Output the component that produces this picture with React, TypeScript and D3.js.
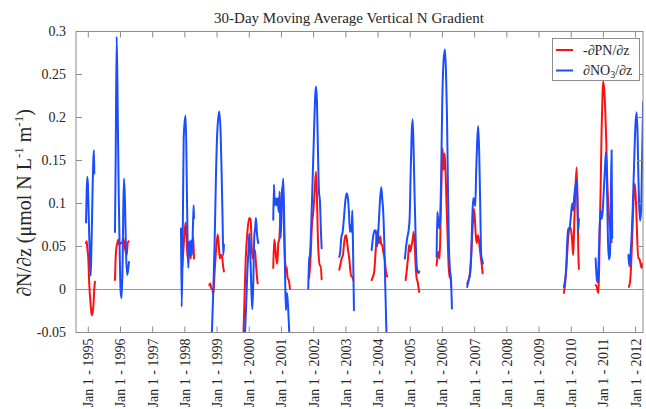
import { line, curveMonotoneX, scaleLinear } from 'd3'

type Pt = [number, number]

// decimal year, value (µmol N L-1 m-1), one array per winter season
const pnSegments: Pt[][] = [
  [[1994.929, 0.054], [1994.95, 0.056], [1994.969, 0.048], [1995.0, 0.036], [1995.031, 0.005], [1995.075, -0.018], [1995.106, -0.03], [1995.137, -0.026], [1995.168, -0.014], [1995.186, 0.001], [1995.208, 0.009]],
  [[1995.829, 0.011], [1995.86, 0.044], [1995.901, 0.054], [1995.932, 0.058], [1995.963, 0.052], [1996.006, 0.054], [1996.047, 0.054], [1996.087, 0.06], [1996.14, 0.048], [1996.193, 0.04], [1996.224, 0.054], [1996.255, 0.056]],
  [[1997.919, 0.027], [1997.95, 0.044], [1997.994, 0.067], [1998.025, 0.078], [1998.056, 0.06], [1998.087, 0.036], [1998.118, 0.052], [1998.149, 0.044], [1998.18, 0.036], [1998.211, 0.052], [1998.242, 0.056], [1998.261, 0.061], [1998.283, 0.036]],
  [[1998.758, 0.005], [1998.789, 0.007], [1998.82, 0.001], [1998.851, 0.001], [1998.882, -0.006], [1998.925, 0.021], [1998.966, 0.044], [1999.019, 0.064], [1999.05, 0.052], [1999.09, 0.036], [1999.121, 0.04], [1999.152, 0.04], [1999.183, 0.028], [1999.214, 0.021]],
  [[1999.814, -0.058], [1999.845, -0.02], [1999.888, 0.034], [1999.938, 0.065], [2000.0, 0.083], [2000.043, 0.081], [2000.075, 0.05], [2000.106, 0.036], [2000.146, 0.046], [2000.177, 0.046], [2000.208, 0.03], [2000.239, 0.015], [2000.261, 0.007]],
  [[2000.745, 0.025], [2000.776, 0.058], [2000.807, 0.049], [2000.838, 0.036], [2000.87, 0.03], [2000.901, 0.054], [2000.932, 0.058], [2000.963, 0.083], [2001.006, 0.11], [2001.037, 0.12], [2001.068, 0.09], [2001.099, 0.044], [2001.13, 0.027], [2001.161, 0.025], [2001.193, 0.013], [2001.224, 0.011], [2001.264, 0.001]],
  [[2001.854, 0.013], [2001.876, 0.021], [2001.907, 0.04], [2001.947, 0.075], [2001.988, 0.09], [2002.031, 0.114], [2002.072, 0.137], [2002.103, 0.106], [2002.134, 0.056], [2002.155, 0.04], [2002.186, 0.028], [2002.217, 0.028], [2002.248, 0.012]],
  [[2002.795, 0.023], [2002.826, 0.028], [2002.87, 0.036], [2002.91, 0.04], [2002.941, 0.052], [2002.981, 0.062], [2003.012, 0.063], [2003.043, 0.054], [2003.075, 0.044], [2003.106, 0.036], [2003.137, 0.023], [2003.168, 0.015], [2003.199, 0.015], [2003.23, 0.011]],
  [[2003.801, 0.011], [2003.842, 0.015], [2003.882, 0.021], [2003.925, 0.044], [2003.975, 0.069], [2004.006, 0.056], [2004.037, 0.054], [2004.068, 0.062], [2004.099, 0.052], [2004.13, 0.052], [2004.161, 0.044], [2004.205, 0.036], [2004.245, 0.021], [2004.286, 0.015]],
  [[2004.857, 0.011], [2004.888, 0.021], [2004.929, 0.036], [2004.969, 0.052], [2005.0, 0.044], [2005.031, 0.049], [2005.075, 0.058], [2005.106, 0.067], [2005.137, 0.054], [2005.168, 0.028], [2005.199, 0.013], [2005.23, 0.009], [2005.261, 0.001], [2005.28, -0.003]],
  [[2005.82, 0.028], [2005.851, 0.04], [2005.882, 0.044], [2005.913, 0.036], [2005.944, 0.081], [2005.975, 0.131], [2006.006, 0.164], [2006.037, 0.139], [2006.068, 0.158], [2006.099, 0.135], [2006.13, 0.096], [2006.161, 0.061], [2006.193, 0.027], [2006.224, 0.015], [2006.255, 0.013], [2006.273, 0.003]],
  [[2006.77, 0.007], [2006.813, 0.011], [2006.853, 0.019], [2006.894, 0.04], [2006.938, 0.073], [2006.978, 0.094], [2007.009, 0.081], [2007.04, 0.061], [2007.071, 0.054], [2007.102, 0.063], [2007.133, 0.058], [2007.165, 0.046], [2007.196, 0.036], [2007.227, 0.027], [2007.248, 0.019]],
  [[2009.773, -0.004], [2009.814, 0.008], [2009.857, 0.03], [2009.897, 0.055], [2009.938, 0.07], [2009.981, 0.072], [2010.022, 0.06], [2010.062, 0.04], [2010.093, 0.075], [2010.124, 0.11], [2010.168, 0.142], [2010.199, 0.1], [2010.217, 0.05], [2010.239, 0.024]],
  [[2010.758, 0.005], [2010.789, 0.004], [2010.82, -0.002], [2010.851, -0.004], [2010.882, 0.06], [2010.913, 0.115], [2010.944, 0.185], [2010.975, 0.23], [2010.994, 0.242], [2011.025, 0.232], [2011.056, 0.21], [2011.087, 0.175], [2011.118, 0.13], [2011.149, 0.1], [2011.18, 0.08], [2011.211, 0.07], [2011.255, 0.055]],
  [[2011.792, 0.003], [2011.832, 0.01], [2011.863, 0.03], [2011.894, 0.06], [2011.932, 0.1], [2011.978, 0.123], [2012.019, 0.095], [2012.05, 0.06], [2012.081, 0.036], [2012.112, 0.036], [2012.155, 0.03], [2012.186, 0.025], [2012.217, 0.03]],
]

const no3Segments: Pt[][] = [
  [[1994.929, 0.078], [1994.95, 0.115], [1994.969, 0.131], [1994.99, 0.12], [1995.01, 0.09], [1995.031, 0.06], [1995.052, 0.03], [1995.075, 0.016], [1995.095, 0.045], [1995.115, 0.08], [1995.135, 0.12], [1995.155, 0.15], [1995.177, 0.162], [1995.186, 0.135]],
  [[1995.829, 0.067], [1995.851, 0.153], [1995.882, 0.294], [1995.913, 0.211], [1995.944, 0.114], [1995.975, 0.044], [1996.006, -0.003], [1996.037, -0.01], [1996.068, 0.036], [1996.087, 0.094], [1996.109, 0.129], [1996.14, 0.102], [1996.171, 0.044], [1996.211, 0.017], [1996.242, 0.025], [1996.264, 0.032]],
  [[1997.879, 0.071], [1997.901, -0.02], [1997.932, 0.056], [1997.963, 0.176], [1997.994, 0.195], [1998.025, 0.202], [1998.056, 0.133], [1998.087, 0.05], [1998.106, 0.025], [1998.137, 0.056], [1998.168, 0.04], [1998.19, 0.057], [1998.22, 0.04], [1998.252, 0.075], [1998.273, 0.098], [1998.283, 0.083]],
  [[1998.82, -0.07], [1998.882, -0.003], [1998.925, 0.056], [1998.966, 0.133], [1999.006, 0.183], [1999.068, 0.207], [1999.112, 0.18], [1999.143, 0.133], [1999.174, 0.075], [1999.193, 0.04], [1999.214, 0.052]],
  [[1999.857, -0.058], [1999.898, -0.024], [1999.938, 0.019], [1999.981, 0.05], [2000.0, 0.065], [2000.031, 0.042], [2000.062, 0.003], [2000.093, -0.023], [2000.124, 0.007], [2000.155, 0.061], [2000.186, 0.073], [2000.208, 0.083], [2000.239, 0.065], [2000.28, 0.054]],
  [[2000.745, 0.081], [2000.767, 0.122], [2000.789, 0.098], [2000.82, 0.106], [2000.851, 0.098], [2000.882, 0.106], [2000.913, 0.09], [2000.944, 0.114], [2000.975, 0.06], [2001.016, 0.102], [2001.056, 0.129], [2001.087, 0.075], [2001.118, 0.005], [2001.14, -0.024], [2001.171, -0.004], [2001.202, -0.018], [2001.242, -0.049], [2001.264, -0.065]],
  [[2001.832, 0.001], [2001.863, 0.036], [2001.885, 0.04], [2001.925, 0.075], [2001.969, 0.129], [2002.009, 0.18], [2002.05, 0.226], [2002.072, 0.236], [2002.103, 0.218], [2002.134, 0.16], [2002.165, 0.114], [2002.196, 0.102], [2002.227, 0.067], [2002.248, 0.048]],
  [[2002.795, 0.038], [2002.826, 0.044], [2002.857, 0.06], [2002.901, 0.067], [2002.941, 0.083], [2002.981, 0.102], [2003.025, 0.112], [2003.065, 0.106], [2003.096, 0.09], [2003.127, 0.067], [2003.158, 0.075], [2003.18, 0.067], [2003.199, 0.092], [2003.22, 0.056], [2003.252, -0.024]],
  [[2003.801, 0.046], [2003.832, 0.057], [2003.863, 0.065], [2003.904, 0.069], [2003.944, 0.064], [2003.975, 0.05], [2004.019, 0.075], [2004.059, 0.102], [2004.099, 0.119], [2004.13, 0.106], [2004.161, 0.09], [2004.193, 0.056], [2004.224, 0.005], [2004.267, -0.06]],
  [[2004.835, 0.036], [2004.866, 0.048], [2004.907, 0.06], [2004.95, 0.069], [2004.981, 0.083], [2005.012, 0.133], [2005.043, 0.18], [2005.075, 0.198], [2005.106, 0.16], [2005.137, 0.106], [2005.168, 0.06], [2005.199, 0.028], [2005.23, 0.021], [2005.261, 0.019], [2005.28, 0.021]],
  [[2005.82, 0.038], [2005.839, 0.09], [2005.87, 0.081], [2005.901, 0.071], [2005.932, 0.085], [2005.963, 0.139], [2005.994, 0.216], [2006.037, 0.267], [2006.078, 0.279], [2006.109, 0.255], [2006.14, 0.205], [2006.171, 0.12], [2006.202, 0.05], [2006.233, 0.023], [2006.264, 0.013], [2006.295, -0.022]],
  [[2006.77, 0.003], [2006.801, 0.009], [2006.832, 0.013], [2006.863, 0.019], [2006.894, 0.04], [2006.925, 0.081], [2006.957, 0.106], [2006.988, 0.104], [2007.019, 0.097], [2007.05, 0.139], [2007.081, 0.174], [2007.112, 0.19], [2007.143, 0.158], [2007.174, 0.097], [2007.205, 0.04], [2007.236, 0.034], [2007.258, 0.03]],
  [[2009.773, 0.003], [2009.814, 0.012], [2009.845, 0.025], [2009.876, 0.055], [2009.907, 0.07], [2009.95, 0.072], [2009.99, 0.085], [2010.031, 0.1], [2010.062, 0.092], [2010.093, 0.108], [2010.124, 0.118], [2010.168, 0.127], [2010.199, 0.09], [2010.217, 0.068], [2010.239, 0.082]],
  [[2010.758, 0.036], [2010.789, 0.015], [2010.82, 0.008], [2010.851, 0.03], [2010.882, 0.07], [2010.913, 0.092], [2010.944, 0.082], [2010.975, 0.09], [2011.006, 0.11], [2011.047, 0.14], [2011.078, 0.16], [2011.109, 0.125], [2011.14, 0.06], [2011.171, 0.035], [2011.202, 0.04], [2011.233, 0.11], [2011.255, 0.162], [2011.273, 0.06]],
  [[2011.777, 0.04], [2011.807, 0.027], [2011.839, 0.04], [2011.876, 0.061], [2011.916, 0.1], [2011.957, 0.15], [2011.994, 0.19], [2012.031, 0.206], [2012.062, 0.18], [2012.087, 0.13], [2012.112, 0.096], [2012.143, 0.08], [2012.174, 0.095], [2012.205, 0.16], [2012.236, 0.218]],
]

const tickYears = [1995, 1996, 1997, 1998, 1999, 2000, 2001, 2002, 2003, 2004, 2005, 2006, 2007, 2008, 2009, 2010, 2011, 2012]
const yTicks = [-0.05, 0, 0.05, 0.1, 0.15, 0.2, 0.25, 0.3]
const yTickLabels = ['-0.05', '0', '0.05', '0.1', '0.15', '0.2', '0.25', '0.3']

const WIDTH = 646
const HEIGHT = 409
const PLOT = { left: 76, right: 643, top: 31.5, bottom: 332.5 }
const X_DOMAIN: [number, number] = [1994.618, 2012.23]
const FONT = '"Liberation Serif", "Times New Roman", Times, serif'
const AXIS_COLOR = '#8c8c8c'
const TEXT_COLOR = '#262626'
const RED = '#ff1010'
const BLUE = '#1a4dff'
const TICK = 6

export default function App() {
  const x = scaleLinear().domain(X_DOMAIN).range([PLOT.left, PLOT.right])
  const y = scaleLinear().domain([-0.05, 0.3]).range([PLOT.bottom, PLOT.top])
  const path = line<Pt>()
    .x((d) => x(d[0]))
    .y((d) => y(d[1]))
    .curve(curveMonotoneX)

  return (
    <div style={{ position: 'absolute', left: 0, top: 0 }}>
      <svg width={WIDTH} height={HEIGHT} viewBox={`0 0 ${WIDTH} ${HEIGHT}`} style={{ display: 'block', background: '#fff' }}>
        <defs>
          <clipPath id="plot-clip">
            <rect x={PLOT.left} y={PLOT.top} width={PLOT.right - PLOT.left} height={PLOT.bottom - PLOT.top} />
          </clipPath>
        </defs>

        <text x={349} y={23} textAnchor="middle" fontFamily={FONT} fontSize={15} fill={TEXT_COLOR}>
          30-Day Moving Average Vertical N Gradient
        </text>

        {/* zero line */}
        <line x1={PLOT.left} x2={PLOT.right} y1={y(0)} y2={y(0)} stroke="#9a9a9a" strokeWidth={1} />

        <g clipPath="url(#plot-clip)" fill="none" strokeWidth={2} strokeLinejoin="round" strokeLinecap="round">
          {pnSegments.map((seg, i) => (
            <path key={`pn-${i}`} d={path(seg) ?? ''} stroke={RED} />
          ))}
          {no3Segments.map((seg, i) => (
            <path key={`no3-${i}`} d={path(seg) ?? ''} stroke={BLUE} />
          ))}
        </g>

        {/* axes box */}
        <rect x={PLOT.left} y={PLOT.top} width={PLOT.right - PLOT.left} height={PLOT.bottom - PLOT.top} fill="none" stroke={AXIS_COLOR} strokeWidth={1} />

        {tickYears.map((yr) => (
          <g key={yr}>
            <line x1={x(yr)} x2={x(yr)} y1={PLOT.bottom} y2={PLOT.bottom - TICK} stroke={AXIS_COLOR} />
            <line x1={x(yr)} x2={x(yr)} y1={PLOT.top} y2={PLOT.top + TICK} stroke={AXIS_COLOR} />
            <text
              transform={`translate(${x(yr)},${PLOT.bottom + 6}) rotate(-90)`}
              textAnchor="end"
              dy="0.35em"
              fontFamily={FONT}
              fontSize={14}
              fill={TEXT_COLOR}
            >
              {`Jan 1 - ${yr}`}
            </text>
          </g>
        ))}

        {yTicks.map((v, i) => (
          <g key={v}>
            <line x1={PLOT.left} x2={PLOT.left + TICK} y1={y(v)} y2={y(v)} stroke={AXIS_COLOR} />
            <line x1={PLOT.right} x2={PLOT.right - TICK} y1={y(v)} y2={y(v)} stroke={AXIS_COLOR} />
            <text x={PLOT.left - 10} y={y(v)} dy="0.35em" textAnchor="end" fontFamily={FONT} fontSize={14} fill={TEXT_COLOR}>
              {yTickLabels[i]}
            </text>
          </g>
        ))}

        <text
          transform={`translate(31,203) rotate(-90)`}
          textAnchor="middle"
          fontFamily={FONT}
          fontSize={20}
          fill={TEXT_COLOR}
        >
          ∂N/∂z (μmol N L
          <tspan fontSize={13} dy={-8}>-1</tspan>
          <tspan dy={8}> m</tspan>
          <tspan fontSize={13} dy={-8}>-1</tspan>
          <tspan dy={8}>)</tspan>
        </text>

        {/* legend */}
        <g fontFamily={FONT} fontSize={14} fill={TEXT_COLOR}>
          <rect x={552.5} y={38.5} width={87} height={42} fill="#fff" stroke={AXIS_COLOR} />
          <line x1={556} x2={573} y1={50} y2={50} stroke={RED} strokeWidth={2} />
          <text x={583} y={50} dy="0.35em">-∂PN/∂z</text>
          <line x1={556} x2={573} y1={70.5} y2={70.5} stroke={BLUE} strokeWidth={2} />
          <text x={583} y={70.5} dy="0.35em">
            ∂NO<tspan fontSize={10} dy={3}>3</tspan>
            <tspan dy={-3}>/∂z</tspan>
          </text>
        </g>
      </svg>
    </div>
  )
}
